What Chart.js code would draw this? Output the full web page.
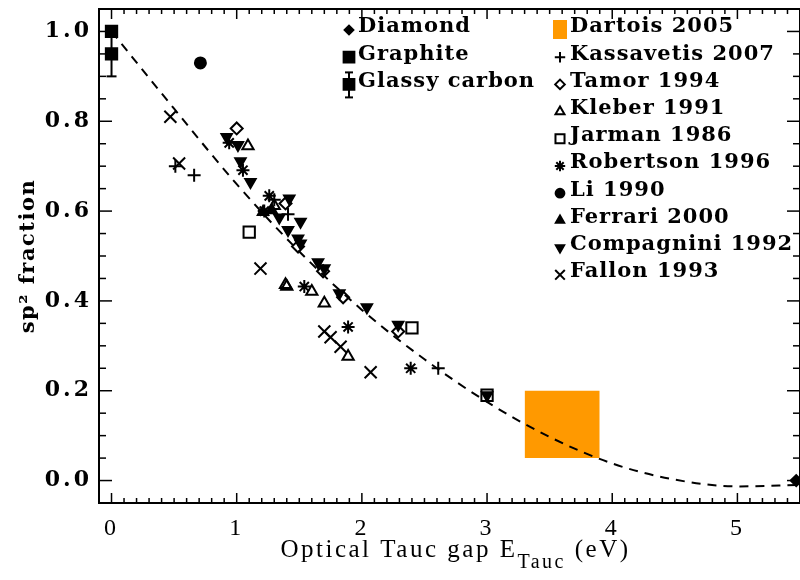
<!DOCTYPE html>
<html>
<head>
<meta charset="utf-8">
<title>sp2 fraction vs optical Tauc gap</title>
<script src="https://cdn.jsdelivr.net/npm/chart.js@4/dist/chart.umd.min.js"></script>
<style>
  html, body { margin: 0; padding: 0; background: #fff; overflow: hidden; }
</style>
</head>
<body>
<canvas id="chart" width="800" height="580"></canvas>
<script>
// axis ticks
const xTicks = [0, 1, 2, 3, 4, 5];
const yTicks = [0.0, 0.2, 0.4, 0.6, 0.8, 1.0];

// reference materials
const diamondX = [5.47];
const diamondY = [0.0];
const graphiteX = [0];
const graphiteY = [1.0];
const glassyX = [0];
const glassyY = [0.95];
const glassyErr = [0.05];

// Dartois 2005 box: gap range and sp2 range
const dartoisX = [3.3, 3.9];
const dartoisY = [0.05, 0.2];

const kassavetisX = [0.51, 0.66, 1.30, 1.41, 2.61];
const kassavetisY = [0.70, 0.68, 0.625, 0.593, 0.25];

const tamorX = [1.00, 1.39, 1.49, 1.69, 1.85, 2.29];
const tamorY = [0.784, 0.617, 0.521, 0.466, 0.408, 0.332];

const kleberX = [1.09, 1.30, 1.39, 1.40, 1.60, 1.70, 1.89];
const kleberY = [0.745, 0.612, 0.436, 0.432, 0.421, 0.395, 0.276];

const jarmanX = [1.10, 2.40, 3.00];
const jarmanY = [0.553, 0.34, 0.19];

const robertsonX = [0.94, 1.05, 1.26, 1.22, 1.54, 1.89, 2.39];
const robertsonY = [0.752, 0.691, 0.634, 0.600, 0.432, 0.342, 0.25];

const liX = [0.71];
const liY = [0.93];

const ferrariX = [1.21, 1.28];
const ferrariY = [0.598, 0.602];

const compagniniX = [0.92, 1.01, 1.03, 1.11, 1.42, 1.34, 1.41, 1.51, 1.49, 1.51, 1.65, 1.70, 1.82, 2.04, 2.29, 3.00];
const compagniniY = [0.765, 0.747, 0.711, 0.665, 0.628, 0.586, 0.558, 0.576, 0.539, 0.528, 0.486, 0.473, 0.417, 0.386, 0.347, 0.19];

const fallonX = [0.47, 0.54, 1.19, 1.70, 1.75, 1.83, 2.07];
const fallonY = [0.81, 0.706, 0.472, 0.332, 0.319, 0.298, 0.241];

// dashed trend curve
const curveX = [0, 0.5, 1.0, 1.5, 2.0, 2.5, 3.0, 3.5, 4.0, 4.5, 5.0, 5.5];
const curveY = [1.0, 0.828, 0.66, 0.51, 0.38, 0.27, 0.175, 0.097, 0.038, 0.002, -0.013, -0.01];

const legendLeft = ['Diamond', 'Graphite', 'Glassy carbon'];
const legendRight = ['Dartois 2005', 'Kassavetis 2007', 'Tamor 1994', 'Kleber 1991', 'Jarman 1986',
  'Robertson 1996', 'Li 1990', 'Ferrari 2000', 'Compagnini 1992', 'Fallon 1993'];

const xTitleMain = 'Optical Tauc gap E';
const xTitleSub = 'Tauc';
const xTitleEnd = ' (eV)';
const yTitle = 'sp\u00b2 fraction';

const ORANGE = '#ff9900';

// marker look per series
const styles = {
  'Diamond':         { shape: 'rectRot',  r: 5.5, fill: true },
  'Graphite':        { shape: 'rect',     r: 8,   fill: true },
  'Glassy carbon':   { shape: 'rect',     r: 8,   fill: true },
  'Kassavetis 2007': { shape: 'cross',    r: 6.5, fill: false },
  'Tamor 1994':      { shape: 'rectRot',  r: 6,   fill: false },
  'Kleber 1991':     { shape: 'triangle', r: 6.5, fill: false },
  'Jarman 1986':     { shape: 'rect',     r: 8,   fill: false },
  'Robertson 1996':  { shape: 'star',     r: 6.5, fill: false },
  'Li 1990':         { shape: 'circle',   r: 5.5, fill: true },
  'Ferrari 2000':    { shape: 'triangle', r: 6,   fill: true },
  'Compagnini 1992': { shape: 'triangle', r: 6,   fill: true, rot: 180 },
  'Fallon 1993':     { shape: 'crossRot', r: 8.5, fill: false }
};

const seriesList = [
  ['Diamond', diamondX, diamondY],
  ['Graphite', graphiteX, graphiteY],
  ['Glassy carbon', glassyX, glassyY],
  ['Kassavetis 2007', kassavetisX, kassavetisY],
  ['Tamor 1994', tamorX, tamorY],
  ['Kleber 1991', kleberX, kleberY],
  ['Jarman 1986', jarmanX, jarmanY],
  ['Robertson 1996', robertsonX, robertsonY],
  ['Li 1990', liX, liY],
  ['Ferrari 2000', ferrariX, ferrariY],
  ['Compagnini 1992', compagniniX, compagniniY],
  ['Fallon 1993', fallonX, fallonY]
];

const pts = (xs, ys) => xs.map((v, i) => ({ x: v, y: ys[i] }));

const datasets = seriesList.map(([name, xs, ys]) => {
  const st = styles[name];
  return {
    label: name,
    data: pts(xs, ys),
    pointStyle: st.shape,
    pointRadius: st.r,
    rotation: st.rot || 0,
    pointBorderWidth: 2,
    pointBorderColor: '#000',
    pointBackgroundColor: st.fill ? '#000' : 'rgba(0,0,0,0)',
    showLine: false,
    clip: false,
    order: 1
  };
});

datasets.push({
  type: 'line',
  label: 'trend',
  data: pts(curveX, curveY),
  borderColor: '#000',
  borderWidth: 2,
  borderDash: [9, 7],
  pointRadius: 0,
  cubicInterpolationMode: 'monotone',
  fill: false,
  order: 2
});

datasets.push({
  type: 'line',
  label: 'Dartois 2005',
  data: pts(dartoisX, [dartoisY[1], dartoisY[1]]),
  borderWidth: 0,
  pointRadius: 0,
  backgroundColor: ORANGE,
  fill: { value: dartoisY[0] },
  order: 3
});

// helper for legend symbols
function drawSymbol(ctx, st, x, y, k) {
  ctx.save();
  ctx.lineWidth = 2;
  ctx.strokeStyle = '#000';
  ctx.fillStyle = st.fill ? '#000' : 'rgba(0,0,0,0)';
  Chart.helpers.drawPoint(ctx, { pointStyle: st.shape, radius: st.r * k, rotation: st.rot || 0, borderWidth: 2 }, x, y);
  ctx.restore();
}

function vline(ctx, x, y0, y1) { ctx.beginPath(); ctx.moveTo(x, y0); ctx.lineTo(x, y1); ctx.stroke(); }
function hline(ctx, x0, x1, y) { ctx.beginPath(); ctx.moveTo(x0, y); ctx.lineTo(x1, y); ctx.stroke(); }

function noPad(s) {
  s.paddingTop = 0;
  s.paddingBottom = 0;
  s.paddingLeft = 0;
  s.paddingRight = 0;
}

const decor = {
  id: 'decor',
  beforeDraw(chart) {
    chart.ctx.letterSpacing = '3px';
  },
  beforeDatasetsDraw(chart) {
    // error bar of glassy carbon
    const { ctx, scales: { x, y } } = chart;
    ctx.save();
    ctx.strokeStyle = '#000';
    ctx.lineWidth = 2;
    glassyX.forEach((gx, i) => {
      const px = x.getPixelForValue(gx);
      const top = y.getPixelForValue(glassyY[i] + glassyErr[i]);
      const bot = y.getPixelForValue(glassyY[i] - glassyErr[i]);
      vline(ctx, px, top, bot);
      hline(ctx, px - 5, px + 5, top);
      hline(ctx, px - 5, px + 5, bot);
    });
    ctx.restore();
  },
  afterDraw(chart) {
    const { ctx, chartArea: a, scales: { x, y } } = chart;
    ctx.save();
    ctx.letterSpacing = '0px';
    ctx.strokeStyle = '#000';

    // frame
    ctx.lineWidth = 2;
    ctx.strokeRect(a.left, a.top, a.right - a.left, a.bottom - a.top);

    // inward ticks on all four sides
    ctx.lineWidth = 1.5;
    for (let i = -1; i <= 55; i++) {
      const px = x.getPixelForValue(i / 10);
      if (px <= a.left + 1 || px >= a.right - 1) continue;
      const len = i % 10 === 0 ? 10 : 5;
      vline(ctx, px, a.bottom, a.bottom - len);
      vline(ctx, px, a.top, a.top + len);
    }
    for (let i = -1; i <= 21; i++) {
      const py = y.getPixelForValue(i * 0.05);
      if (py <= a.top + 1 || py >= a.bottom - 1) continue;
      const len = i % 4 === 0 ? 13 : 7;
      hline(ctx, a.left, a.left + len, py);
      hline(ctx, a.right, a.right - len, py);
    }

    // axis titles
    ctx.fillStyle = '#000';
    ctx.textBaseline = 'alphabetic';
    ctx.letterSpacing = '2.5px';
    const mainFont = '25px "Liberation Serif", serif';
    const subFont = '20px "Liberation Serif", serif';
    ctx.font = mainFont;
    const w1 = ctx.measureText(xTitleMain).width;
    const w3 = ctx.measureText(xTitleEnd).width;
    ctx.font = subFont;
    const w2 = ctx.measureText(xTitleSub).width;
    let tx = (a.left + a.right) / 2 + 6 - (w1 + w2 + w3) / 2;
    ctx.textAlign = 'left';
    ctx.font = mainFont;
    ctx.fillText(xTitleMain, tx, 557);
    ctx.font = subFont;
    ctx.fillText(xTitleSub, tx + w1, 568);
    ctx.font = mainFont;
    ctx.fillText(xTitleEnd, tx + w1 + w2, 557);

    ctx.save();
    ctx.translate(29, (a.top + a.bottom) / 2);
    ctx.rotate(-Math.PI / 2);
    ctx.letterSpacing = '1.5px';
    ctx.font = 'bold 21px "DejaVu Serif", serif';
    ctx.textAlign = 'center';
    ctx.textBaseline = 'middle';
    ctx.fillText(yTitle, 0, 0);
    ctx.restore();

    // legend
    ctx.font = 'bold 21px "DejaVu Serif", serif';
    ctx.letterSpacing = '1px';
    ctx.textAlign = 'left';
    ctx.textBaseline = 'middle';
    const rowH = 27.2;
    legendLeft.forEach((name, i) => {
      const cy = 27 + i * rowH;
      const sx = 349, sy = cy + 3;
      if (name === 'Glassy carbon') {
        ctx.lineWidth = 2;
        vline(ctx, sx, sy - 12, sy + 13);
        hline(ctx, sx - 4, sx + 4, sy - 12);
        hline(ctx, sx - 4, sx + 4, sy + 13);
      }
      drawSymbol(ctx, styles[name], sx, sy, name === 'Diamond' ? 0.8 : 0.95);
      ctx.fillText(name, 358, cy);
    });
    legendRight.forEach((name, i) => {
      const cy = 27 + i * rowH;
      const sx = 560, sy = cy + 3;
      if (name === 'Dartois 2005') {
        ctx.fillStyle = ORANGE;
        ctx.fillRect(sx - 7, sy - 10, 14, 19);
        ctx.fillStyle = '#000';
      } else {
        drawSymbol(ctx, styles[name], sx, sy, 0.8);
      }
      ctx.fillText(name, 570, cy);
    });
    ctx.restore();
  }
};

new Chart(document.getElementById('chart'), {
  type: 'scatter',
  data: { datasets },
  options: {
    responsive: false,
    animation: false,
    events: [],
    layout: { autoPadding: false, padding: { top: 9, right: 0, left: 0, bottom: 0 } },
    plugins: {
      legend: { display: false },
      tooltip: { enabled: false }
    },
    scales: {
      x: {
        type: 'linear',
        min: -0.1,
        max: 5.5,
        grid: { display: false, drawTicks: false },
        border: { display: false },
        afterBuildTicks: (s) => { s.ticks = xTicks.map(v => ({ value: v })); },
        afterFit: (s) => { s.height = 77; noPad(s); },
        ticks: {
          color: '#000',
          padding: 11,
          maxRotation: 0,
          autoSkip: false,
          font: { family: '"Liberation Serif", serif', size: 24 },
          callback: (v) => String(v)
        }
      },
      y: {
        type: 'linear',
        min: -0.05,
        max: 1.05,
        grid: { display: false, drawTicks: false },
        border: { display: false },
        afterBuildTicks: (s) => { s.ticks = yTicks.map(v => ({ value: v })); },
        afterFit: (s) => { s.width = 99; noPad(s); },
        ticks: {
          color: '#000',
          padding: 7,
          autoSkip: false,
          font: { family: '"DejaVu Serif", serif', size: 22, weight: 'bold' },
          callback: (v) => v.toFixed(1)
        }
      }
    }
  },
  plugins: [decor]
});
</script>
</body>
</html>
